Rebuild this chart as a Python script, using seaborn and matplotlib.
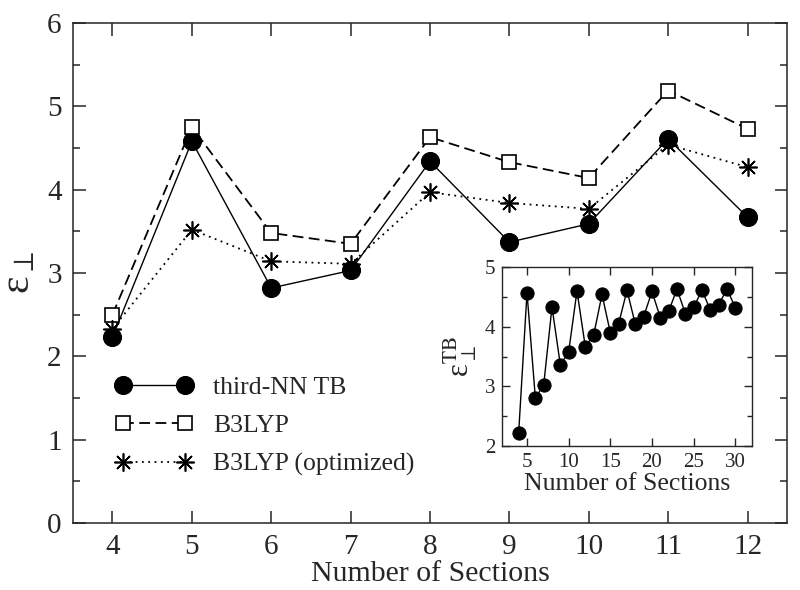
import numpy as np
import matplotlib
matplotlib.use('Agg')
import matplotlib.pyplot as plt
import seaborn as sns

# main panel data
sections = [4, 5, 6, 7, 8, 9, 10, 11, 12]
eps_tb = [2.23, 4.58, 2.82, 3.03, 4.34, 3.37, 3.59, 4.61, 3.67]
eps_b3lyp = [2.50, 4.75, 3.48, 3.35, 4.63, 4.33, 4.14, 5.19, 4.73]
eps_b3lyp_opt = [2.33, 3.52, 3.14, 3.11, 3.97, 3.84, 3.77, 4.54, 4.27]

# inset data (third-NN TB up to 30 sections)
inset_sections = list(range(4, 31))
inset_tb = [2.22, 4.57, 2.81, 3.02, 4.33, 3.36, 3.58, 4.60, 3.66, 3.86, 4.54,
            3.90, 4.05, 4.61, 4.04, 4.17, 4.59, 4.15, 4.26, 4.63, 4.22, 4.33,
            4.61, 4.28, 4.37, 4.63, 4.32]

sns.set_style('ticks')
plt.rcParams['font.family'] = ['Liberation Serif', 'DejaVu Serif']
plt.rcParams['mathtext.fontset'] = 'stix'

fig = plt.figure(figsize=(8, 5.9), dpi=100)
ax = fig.add_axes([0.091, 0.1136, 0.893, 0.8474])

sns.lineplot(x=sections, y=eps_tb, ax=ax, color='black', lw=1.0, linestyle='-',
             marker='o', markersize=13, markeredgecolor='black', label='third-NN TB')
sns.lineplot(x=sections, y=eps_b3lyp, ax=ax, color='black', lw=1.3, linestyle=(0, (6, 3)),
             marker='s', markersize=10, markerfacecolor='white', markeredgecolor='black',
             markeredgewidth=1.2, label='B3LYP')
sns.lineplot(x=sections, y=eps_b3lyp_opt, ax=ax, color='black', lw=1.3, linestyle=(0, (1, 2.5)),
             marker=(8, 2, 0), markersize=13, markeredgecolor='black',
             markeredgewidth=1.2, label='B3LYP (optimized)')

ax.set_xlim(3.5, 12.5)
ax.set_ylim(0, 6)
ax.set_xticks(sections)
ax.set_yticks(range(0, 7))
ax.set_yticks(np.arange(0.5, 6, 1.0), minor=True)
ax.tick_params(which='both', direction='in', top=True, right=True, labelsize=21, width=1.1)
ax.tick_params(which='major', length=9, pad=8)
ax.tick_params(which='minor', length=5)
for s in ax.spines.values():
    s.set_linewidth(1.1)
ax.set_xlabel('Number of Sections', fontsize=21.5, labelpad=1)
ax.set_ylabel(r'ε$_{\perp}$', fontsize=30, labelpad=6)

leg = ax.legend(loc='lower left', bbox_to_anchor=(0.045, 0.073), frameon=False, fontsize=18.5,
                numpoints=2, handlelength=3.0, handletextpad=0.8, labelspacing=0.6,
                borderaxespad=0)

# inset
ins = fig.add_axes([0.6275, 0.244, 0.3125, 0.3034])
sns.lineplot(x=inset_sections, y=inset_tb, ax=ins, color='black', lw=1.0,
             marker='o', markersize=9.5, markeredgecolor='black')
ins.set_xlim(2, 32)
ins.set_ylim(2, 5)
ins.set_xticks([5, 10, 15, 20, 25, 30])
ins.set_yticks([2, 3, 4, 5])
ins.set_yticks([2.5, 3.5, 4.5], minor=True)
ins.tick_params(which='both', direction='in', top=True, right=True, labelsize=15, width=1.0)
ins.tick_params(which='major', length=6, pad=5)
ins.tick_params(which='minor', length=3.5)
for s in ins.spines.values():
    s.set_linewidth(1.0)
ins.set_xlabel('Number of Sections', fontsize=18.5, labelpad=1)
ins.set_ylabel(r'ε$_{\perp}^{\mathrm{TB}}$', fontsize=22, labelpad=4)

fig.savefig('out.png', dpi=100)
